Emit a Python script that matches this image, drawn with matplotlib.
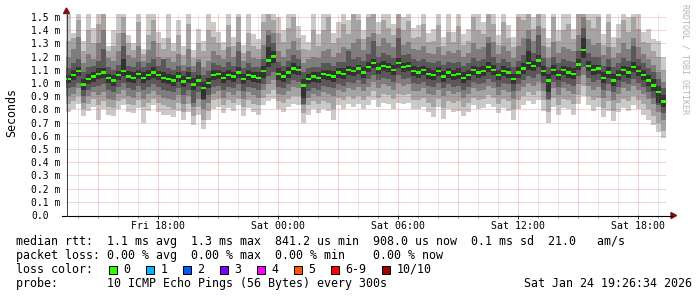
import numpy as np
import pandas as pd
import matplotlib
matplotlib.use("Agg")
import matplotlib.pyplot as plt
import matplotlib.dates as mdates
from matplotlib.lines import Line2D
from matplotlib.patches import Polygon, Rectangle

W, H = 697, 297
MONO = "DejaVu Sans Mono"

# ── data: smokeping, 10 pings sorted, 15 min buckets, values in 1/100 ms ──────
START = "2026-01-23 13:24"
STEP_MIN = 15

MEDIAN = [103, 106, 109, 99, 103, 105, 107, 108, 104, 102,
          106, 109, 105, 104, 107, 104, 106, 108, 106, 104,
          103, 102, 105, 101, 104, 99, 102, 96, 100, 106,
          107, 104, 106, 105, 108, 103, 106, 105, 104, 109,
          117, 120, 107, 105, 108, 111, 110, 98, 103, 105,
          104, 107, 106, 105, 108, 107, 110, 109, 111, 108,
          112, 115, 111, 113, 112, 110, 115, 112, 113, 109,
          108, 110, 107, 106, 109, 105, 108, 106, 107, 104,
          106, 110, 108, 109, 112, 110, 106, 109, 108, 103,
          108, 111, 115, 113, 117, 109, 102, 110, 106, 110,
          108, 107, 114, 125, 113, 110, 111, 104, 108, 102,
          106, 110, 108, 112, 109, 106, 102, 98, 93, 86]

P01 = [78, 80, 84, 75, 79, 82, 72, 80, 76, 75,
       80, 83, 78, 77, 81, 70, 79, 83, 78, 76,
       76, 74, 79, 72, 78, 68, 76, 65, 72, 80,
       82, 77, 81, 79, 83, 75, 81, 78, 76, 83,
       86, 88, 80, 78, 82, 84, 83, 70, 76, 80,
       77, 80, 79, 72, 83, 80, 84, 82, 84, 80,
       83, 87, 82, 85, 84, 80, 85, 84, 85, 80,
       80, 82, 78, 74, 82, 73, 80, 78, 79, 75,
       78, 83, 80, 81, 84, 82, 77, 81, 79, 72,
       80, 83, 86, 84, 87, 79, 70, 82, 76, 81,
       80, 76, 84, 90, 83, 79, 82, 74, 79, 71,
       78, 81, 79, 83, 80, 76, 72, 68, 63, 58]

P02 = [84, 86, 90, 80, 84, 88, 83, 86, 82, 81,
       86, 88, 84, 83, 87, 82, 85, 88, 85, 83,
       82, 80, 85, 78, 84, 75, 82, 72, 79, 87,
       88, 83, 87, 85, 88, 82, 87, 84, 83, 89,
       92, 95, 86, 85, 88, 90, 90, 77, 83, 86,
       84, 86, 85, 80, 89, 87, 90, 88, 90, 87,
       90, 94, 89, 92, 91, 88, 92, 91, 92, 87,
       87, 89, 85, 82, 88, 81, 86, 85, 86, 82,
       85, 89, 87, 88, 91, 89, 84, 88, 86, 80,
       87, 90, 93, 91, 94, 87, 78, 89, 83, 88,
       87, 84, 91, 98, 90, 87, 89, 81, 86, 79,
       85, 88, 86, 90, 87, 84, 80, 75, 70, 64]

P03 = [90, 92, 96, 85, 90, 93, 91, 93, 88, 87,
       92, 95, 90, 89, 93, 88, 92, 94, 91, 89,
       88, 87, 91, 84, 90, 82, 88, 80, 85, 92,
       94, 89, 93, 91, 94, 88, 93, 91, 89, 95,
       99, 102, 92, 91, 94, 97, 96, 83, 89, 92,
       90, 93, 92, 90, 95, 93, 96, 95, 97, 94,
       97, 101, 96, 99, 98, 95, 100, 98, 99, 94,
       94, 96, 92, 91, 95, 90, 94, 92, 93, 89,
       92, 96, 94, 95, 98, 96, 91, 95, 93, 88,
       94, 97, 100, 98, 101, 94, 87, 96, 91, 96,
       94, 92, 99, 106, 98, 95, 97, 89, 94, 87,
       92, 96, 94, 98, 95, 92, 88, 84, 78, 72]

P04 = [96, 97, 100, 90, 95, 97, 98, 99, 95, 93,
       97, 100, 96, 95, 98, 95, 97, 99, 97, 95,
       94, 93, 96, 91, 95, 85, 93, 87, 91, 97,
       98, 95, 97, 96, 99, 94, 97, 96, 95, 99,
       105, 108, 97, 96, 99, 102, 101, 84, 94, 96,
       95, 98, 97, 96, 99, 98, 101, 100, 102, 99,
       103, 106, 102, 104, 103, 101, 106, 103, 104, 100,
       99, 101, 98, 97, 100, 96, 99, 97, 98, 95,
       97, 101, 99, 100, 103, 101, 97, 100, 99, 94,
       99, 102, 105, 104, 107, 100, 88, 101, 97, 101,
       99, 98, 105, 112, 104, 101, 102, 95, 99, 93,
       97, 101, 99, 103, 100, 97, 93, 89, 83, 77]

P05 = [100, 102, 105, 95, 99, 101, 103, 104, 100, 98,
       102, 105, 101, 100, 103, 100, 102, 104, 102, 100,
       99, 98, 101, 97, 100, 95, 98, 88, 96, 102,
       103, 100, 102, 101, 104, 99, 102, 101, 100, 104,
       112, 115, 102, 101, 104, 107, 106, 89, 99, 101,
       100, 103, 102, 101, 104, 103, 106, 105, 107, 104,
       108, 111, 107, 109, 108, 106, 111, 108, 109, 105,
       104, 106, 103, 102, 105, 101, 104, 102, 103, 100,
       102, 106, 104, 105, 108, 106, 102, 105, 104, 99,
       104, 107, 110, 109, 112, 105, 93, 106, 102, 106,
       104, 103, 110, 119, 109, 106, 107, 100, 104, 98,
       102, 106, 104, 108, 105, 102, 98, 94, 85, 82]

P06 = [106, 110, 112, 103, 107, 108, 111, 111, 107, 106,
       109, 118, 109, 108, 110, 108, 110, 112, 109, 108,
       107, 106, 108, 105, 108, 104, 106, 101, 104, 110,
       110, 108, 110, 108, 112, 107, 110, 108, 108, 113,
       127, 124, 111, 109, 112, 115, 113, 103, 107, 108,
       108, 110, 110, 109, 111, 111, 113, 112, 114, 112,
       116, 118, 115, 117, 115, 114, 119, 115, 116, 113,
       112, 113, 111, 110, 112, 109, 111, 110, 111, 108,
       110, 113, 112, 113, 116, 114, 110, 113, 111, 107,
       112, 115, 124, 117, 121, 113, 107, 114, 110, 113,
       112, 111, 118, 134, 117, 114, 114, 108, 112, 107,
       110, 113, 112, 116, 113, 110, 106, 103, 98, 91]

P07 = [111, 115, 118, 108, 112, 113, 117, 126, 112, 110,
       114, 128, 113, 112, 116, 112, 115, 118, 113, 118,
       111, 110, 113, 109, 112, 108, 116, 106, 109, 115,
       114, 112, 116, 113, 124, 111, 115, 112, 112, 118,
       136, 130, 116, 113, 117, 121, 118, 108, 111, 112,
       112, 115, 115, 113, 116, 116, 124, 118, 120, 117,
       122, 132, 120, 123, 121, 119, 134, 121, 122, 118,
       117, 118, 116, 115, 117, 114, 116, 115, 116, 113,
       115, 119, 117, 118, 130, 120, 115, 118, 116, 112,
       117, 121, 133, 123, 136, 119, 112, 120, 115, 118,
       117, 116, 124, 142, 123, 120, 120, 113, 118, 112,
       115, 119, 117, 128, 118, 115, 111, 108, 103, 96]

P08 = [120, 126, 135, 115, 122, 118, 130, 140, 119, 117,
       124, 138, 121, 119, 128, 117, 125, 132, 120, 118,
       119, 116, 122, 114, 126, 113, 118, 112, 117, 124,
       121, 118, 127, 120, 131, 117, 124, 119, 118, 129,
       140, 138, 124, 120, 126, 132, 125, 115, 118, 120,
       119, 124, 126, 120, 123, 127, 126, 130, 133, 125,
       135, 138, 128, 134, 130, 127, 142, 129, 131, 126,
       125, 128, 123, 122, 127, 121, 124, 123, 125, 120,
       123, 130, 126, 127, 135, 131, 122, 128, 124, 119,
       128, 134, 140, 132, 143, 128, 119, 131, 123, 127,
       126, 124, 136, 150, 133, 129, 130, 121, 127, 119,
       123, 130, 126, 134, 127, 122, 118, 114, 108, 101]

P09 = [132, 134, 148, 124, 140, 130, 145, 152, 124, 128,
       138, 150, 130, 125, 146, 122, 136, 148, 130, 126,
       134, 124, 136, 121, 145, 119, 130, 124, 140, 135,
       130, 125, 144, 128, 150, 123, 138, 128, 126, 146,
       152, 148, 138, 131, 142, 150, 134, 126, 125, 140,
       128, 140, 150, 130, 134, 145, 137, 152, 148, 133,
       150, 155, 137, 148, 142, 136, 155, 140, 147, 134,
       135, 145, 131, 132, 144, 128, 139, 131, 143, 129,
       132, 150, 140, 137, 152, 145, 129, 146, 134, 127,
       150, 148, 154, 141, 155, 142, 127, 150, 132, 140,
       145, 133, 152, 156, 148, 142, 150, 129, 146, 127,
       134, 148, 139, 150, 141, 131, 130, 124, 120, 110]

P10 = [155, 138, 158, 132, 156, 142, 160, 158, 128, 140,
       153, 160, 136, 130, 158, 126, 152, 160, 139, 134,
       155, 130, 148, 128, 158, 125, 141, 132, 160, 146,
       139, 131, 158, 135, 160, 129, 152, 137, 133, 158,
       160, 157, 150, 140, 156, 160, 143, 136, 131, 155,
       137, 156, 160, 138, 146, 158, 148, 160, 158, 140,
       160, 160, 146, 160, 155, 145, 160, 150, 160, 142,
       144, 158, 138, 141, 158, 135, 152, 139, 156, 137,
       141, 160, 152, 146, 160, 158, 136, 158, 144, 135,
       160, 158, 160, 150, 160, 156, 134, 160, 140, 152,
       157, 141, 160, 160, 160, 155, 160, 137, 158, 135,
       145, 160, 150, 160, 156, 139, 141, 133, 132, 120]

YTICKS = [0.0, 0.1, 0.2, 0.3, 0.4, 0.5, 0.6, 0.7, 0.8, 0.9,
          1.0, 1.1, 1.2, 1.3, 1.4, 1.5]
YTICK_LABELS = ["0.0", "0.1 m", "0.2 m", "0.3 m", "0.4 m", "0.5 m",
                "0.6 m", "0.7 m", "0.8 m", "0.9 m", "1.0 m", "1.1 m",
                "1.2 m", "1.3 m", "1.4 m", "1.5 m"]

RTT_LINE = "median rtt:  1.1 ms avg  1.3 ms max  841.2 us min  908.0 us now  0.1 ms sd  21.0   am/s"
LOSS_LINE = "packet loss: 0.00 % avg  0.00 % max  0.00 % min    0.00 % now"
LOSS_LABELS = ["0", "1", "2", "3", "4", "5", "6-9", "10/10"]
LOSS_COLORS = ["#26ff00", "#00b8ff", "#0059ff", "#7e00ff", "#ff00ff",
               "#ff5500", "#ff0000", "#a10000"]
PROBE_LINE = "probe:       10 ICMP Echo Pings (56 Bytes) every 300s"
STAMP = "Sat Jan 24 19:26:34 2026"

# smoke shades: outer pair lightest, inner pair darkest
SHADES = ["#cacaca", "#a4a4a4", "#7e7e7e", "#585858", "#323232"]
GRID = (0.55, 0.55, 0.55, 0.4)
MGRID = (0.85, 0.2, 0.2, 0.42)
ARROW = "#801010"


def fx(px):
    return px / W


def fy(py):
    return 1 - py / H


# ── figure ─────────────────────────────────────────────────────────────────────
fig = plt.figure(figsize=(W / 100, H / 100), dpi=100)
fig.patch.set_facecolor("white")
ax = fig.add_axes([fx(66), fy(215), 600 / W, (215 - 14) / H])
ax.set_facecolor("white")

n = len(MEDIAN)
edges = mdates.date2num(pd.date_range(pd.Timestamp(START), periods=n + 1,
                                      freq=f"{STEP_MIN}min"))
x = edges[:-1]
bw = edges[1] - edges[0]

lows = [P01, P02, P03, P04, P05]
highs = [P10, P09, P08, P07, P06]
for lo, hi, shade in zip(lows, highs, SHADES):
    lo = np.asarray(lo) / 100.0
    hi = np.asarray(hi) / 100.0
    ax.bar(x, hi - lo, bottom=lo, width=bw, align="edge", color=shade,
           linewidth=0, antialiased=False, zorder=1)

med = np.asarray(MEDIAN) / 100.0
box_h = 0.018
ax.bar(x, box_h, bottom=med - box_h / 2, width=bw, align="edge",
       color=LOSS_COLORS[0], linewidth=0, antialiased=False, zorder=2)

ax.set_xlim(edges[0], edges[-1])
ax.set_ylim(0, (215 - 14) / 132.0)

# dotted grid on top of the smoke, rrdtool style
for y in YTICKS[1:]:
    ax.axhline(y, color=MGRID, lw=0.72, dashes=(1, 1), zorder=3)
hours = pd.date_range(pd.Timestamp(START).ceil("h"),
                      pd.Timestamp(START) + pd.Timedelta(hours=30), freq="h")
for h in hours:
    c = MGRID if h.hour % 3 == 0 else GRID
    ax.axvline(mdates.date2num(h), color=c, lw=0.72, dashes=(1, 1), zorder=3)

for s in ax.spines.values():
    s.set_visible(False)

ax.xaxis.set_major_locator(mdates.HourLocator(byhour=[0, 6, 12, 18]))
ax.xaxis.set_major_formatter(mdates.DateFormatter("%a %H:%M"))
ax.xaxis.set_minor_locator(mdates.HourLocator())
ax.tick_params(axis="x", which="major", length=3, width=0.72, color="#404040",
               pad=1.5, labelsize=7.1)
ax.tick_params(axis="x", which="minor", length=2, width=0.72, color="#909090")
for lab in ax.get_xticklabels():
    lab.set_family(MONO)

ax.set_yticks(YTICKS)
ax.set_yticklabels(YTICK_LABELS)
ax.tick_params(axis="y", length=0, pad=25.2, labelsize=7.0)
for lab in ax.get_yticklabels():
    lab.set_family(MONO)
    lab.set_horizontalalignment("left")

# axes with arrows
fig.add_artist(Line2D([fx(62), fx(672)], [fy(215.5), fy(215.5)], color="black",
                      lw=0.8, transform=fig.transFigure))
fig.add_artist(Line2D([fx(66.5), fx(66.5)], [fy(215.5), fy(12)], color="#404040",
                      lw=0.72, transform=fig.transFigure))
fig.add_artist(Polygon([[fx(63.5), fy(13.5)], [fx(69.5), fy(13.5)], [fx(66.5), fy(8)]],
                       closed=True, color=ARROW, transform=fig.transFigure))
fig.add_artist(Polygon([[fx(671), fy(212.5)], [fx(671), fy(218.5)], [fx(676.5), fy(215.5)]],
                       closed=True, color=ARROW, transform=fig.transFigure))

fig.text(fx(12), fy(113), "Seconds", rotation=90, family=MONO, fontsize=8.4,
         ha="center", va="center")
fig.text(fx(685), fy(59), "RRDTOOL / TOBI OETIKER", rotation=270, family=MONO,
         fontsize=6.0, color="#b4b4b4", ha="center", va="center")

# ── legend rows ────────────────────────────────────────────────────────────────
LEG = 8.37
fig.text(fx(16), fy(241.5), RTT_LINE, family=MONO, fontsize=LEG, va="center")
fig.text(fx(16), fy(255.5), LOSS_LINE, family=MONO, fontsize=LEG, va="center")

fig.text(fx(16), fy(269.5), "loss color:", family=MONO, fontsize=LEG, va="center")
box_x = [109, 146, 183, 219.5, 256.5, 293.5, 330.5, 382]
for lab, col, bx in zip(LOSS_LABELS, LOSS_COLORS, box_x):
    fig.add_artist(Rectangle((fx(bx), fy(273.5)), 8 / W, 8 / H, facecolor=col,
                             edgecolor="black", lw=0.72, transform=fig.transFigure))
    fig.text(fx(bx + 14.5), fy(269.5), lab, family=MONO, fontsize=LEG, va="center")

fig.text(fx(16), fy(283.5), PROBE_LINE, family=MONO, fontsize=LEG, va="center")
fig.text(fx(692), fy(283.5), STAMP, family=MONO, fontsize=LEG, va="center", ha="right")

fig.savefig("out.png", dpi=100, facecolor="white")
